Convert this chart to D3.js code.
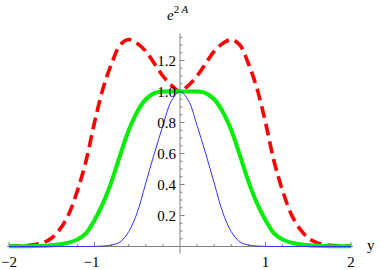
<!DOCTYPE html>
<html><head><meta charset="utf-8">
<script src="https://cdn.jsdelivr.net/npm/d3@7"></script>
<style>body{margin:0;background:#fff}svg{display:block}text{font-family:"Liberation Serif","Times New Roman","DejaVu Serif",serif}</style>
</head><body>
<script>
const xs = [-2.0,-1.9,-1.8,-1.7,-1.6,-1.5,-1.4,-1.3,-1.2,-1.1,-1.0,-0.9,-0.8,-0.7,-0.6,-0.5,-0.4,-0.3,-0.2,-0.1,0.0,
            0.1,0.2,0.3,0.4,0.5,0.6,0.7,0.8,0.9,1.0,1.1,1.2,1.3,1.4,1.5,1.6,1.7,1.8,1.9,2.0];
const redDashed = [0.002,0.003,0.006,0.012,0.025,0.055,0.115,0.21,0.36,0.55,0.80,1.02,1.18,1.30,1.335,1.31,1.26,1.18,1.10,1.04,1.0,
                   1.04,1.10,1.18,1.26,1.31,1.335,1.30,1.18,1.02,0.80,0.55,0.36,0.21,0.115,0.055,0.025,0.012,0.006,0.003,0.002];
const green = [0.001,0.001,0.002,0.003,0.005,0.008,0.014,0.025,0.045,0.085,0.17,0.28,0.42,0.59,0.75,0.87,0.95,0.99,1.0,1.0,1.0,
               1.0,1.0,0.99,0.95,0.87,0.75,0.59,0.42,0.28,0.17,0.085,0.045,0.025,0.014,0.008,0.005,0.003,0.002,0.001,0.001];
const blue = [0,0,0,0,0,0,0,0,0,0,0.001,0.003,0.01,0.03,0.095,0.22,0.41,0.60,0.78,0.94,1.0,
              0.94,0.78,0.60,0.41,0.22,0.095,0.03,0.01,0.003,0.001,0,0,0,0,0,0,0,0,0,0];
const xTicks = [-2,-1,1,2];
const xTickLabels = ["\u22122","\u22121","1","2"];
const yTicks = [0.2,0.4,0.6,0.8,1.0,1.2];
const yTickLabels = ["0.2","0.4","0.6","0.8","1.0","1.2"];

const W = 382, H = 270;
const svg = d3.select("body").append("svg").attr("width", W).attr("height", H);
const x = d3.scaleLinear().domain([-2, 2]).range([9, 351]);
const y = d3.scaleLinear().domain([0, 1]).range([246.5, 91.5]);
const axisColor = "#808080";

const g = svg.append("g");
g.append("line").attr("x1", 7).attr("x2", 353).attr("y1", y(0)).attr("y2", y(0))
  .attr("stroke", axisColor).attr("stroke-width", 1);
g.append("line").attr("x1", x(0)).attr("x2", x(0)).attr("y1", y(1.375)).attr("y2", y(0) + 7)
  .attr("stroke", axisColor).attr("stroke-width", 1);
d3.range(-2, 2.0001, 0.2).forEach(v => {
  const major = Math.abs(v - Math.round(v)) < 1e-6;
  if (Math.abs(v) < 1e-6) return;
  g.append("line").attr("x1", x(v)).attr("x2", x(v)).attr("y1", y(0)).attr("y2", y(0) - (major ? 4.5 : 2.5))
    .attr("stroke", axisColor).attr("stroke-width", 1);
});
d3.range(0.05, 1.3501, 0.05).forEach(v => {
  const major = Math.abs(v / 0.2 - Math.round(v / 0.2)) < 1e-6;
  g.append("line").attr("x1", x(0)).attr("x2", x(0) + (major ? 4.5 : 2.5)).attr("y1", y(v)).attr("y2", y(v))
    .attr("stroke", axisColor).attr("stroke-width", 1);
});

const line = d3.line().x((d, i) => x(xs[i])).y(d => y(d)).curve(d3.curveCatmullRom.alpha(0.5));
svg.append("path").datum(redDashed).attr("d", line).attr("fill", "none")
  .attr("stroke", "#ff0000").attr("stroke-width", 3.6).attr("stroke-dasharray", "12,6");
svg.append("path").datum(green).attr("d", line).attr("fill", "none")
  .attr("stroke", "#00ee00").attr("stroke-width", 4);
svg.append("path").datum(blue).attr("d", line).attr("fill", "none")
  .attr("stroke", "#3333ff").attr("stroke-width", 1);

xTicks.forEach((v, i) => {
  const t = svg.append("text").attr("y", 267).attr("font-size", 15).attr("fill", "#000").text(xTickLabels[i]);
  if (v === xTicks[0]) t.attr("x", 1).attr("text-anchor", "start");
  else t.attr("x", x(v) - (v < 0 ? 3 : 0)).attr("text-anchor", "middle");
});
yTicks.forEach((v, i) => {
  svg.append("text").attr("x", x(0) - 4).attr("y", y(v) + 5).attr("text-anchor", "end")
    .attr("font-size", 15).attr("fill", "#000").text(yTickLabels[i]);
});
const lab = svg.append("text").attr("x", 167).attr("y", 20).attr("font-size", 15).attr("fill", "#000");
lab.append("tspan").attr("font-style", "italic").text("e");
lab.append("tspan").attr("dy", -7).attr("font-size", 11).text("2\u2009");
lab.append("tspan").attr("font-style", "italic").attr("font-size", 11).text("A");
svg.append("text").attr("x", 367).attr("y", 250).attr("font-size", 15)
  .attr("fill", "#000").text("y");
</script>
</body></html>
